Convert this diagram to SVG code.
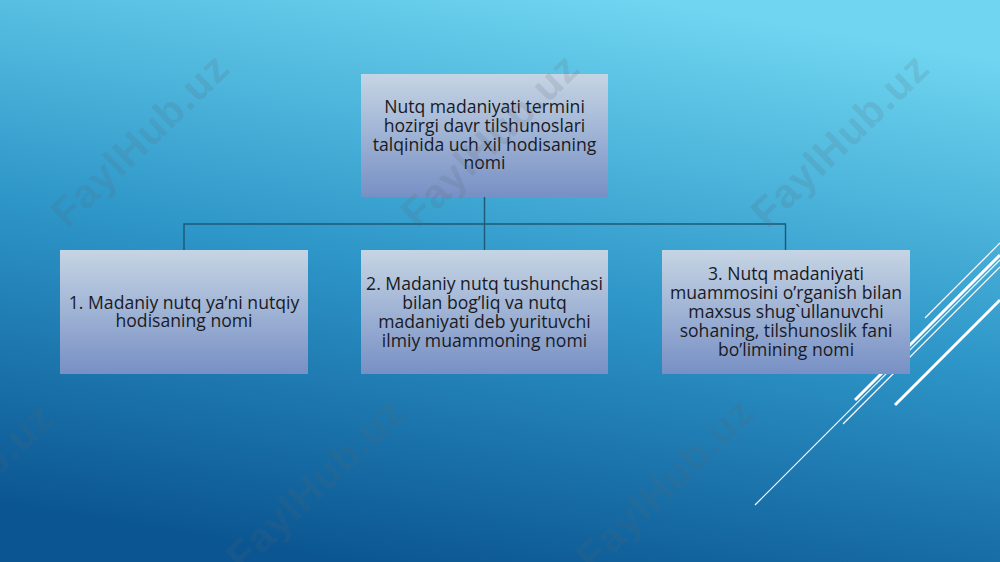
<svg xmlns="http://www.w3.org/2000/svg" width="1000" height="562" viewBox="0 0 1000 562">
<defs>
<linearGradient id="bg" x1="0.65" y1="0" x2="0.35" y2="1">
<stop offset="0" stop-color="#6fd5f0"/>
<stop offset="0.5" stop-color="#2e96c8"/>
<stop offset="1" stop-color="#0b5692"/>
</linearGradient>
<linearGradient id="box" x1="0" y1="0" x2="0" y2="1">
<stop offset="0" stop-color="#c6d5e4"/>
<stop offset="1" stop-color="#7790c5"/>
</linearGradient>
<style>
.node rect{fill:url(#box);}
.node text{font-family:"Open Sans","Noto Sans","Liberation Sans",sans-serif;font-size:17.6px;fill:#1a1a1f;text-anchor:middle;}
.conn{stroke:#1c5877;stroke-width:1.4;fill:none;}
.deco line{stroke:#ffffff;stroke-linecap:butt;}
.wm{font-family:"Liberation Sans",Arial,sans-serif;font-weight:bold;font-size:41px;fill:#5a6670;fill-opacity:0.17;text-anchor:middle;letter-spacing:1px;}
</style>
</defs>
<rect x="0" y="0" width="1000" height="562" fill="url(#bg)"/>
<g class="deco">
<line x1="1000" y1="243" x2="925" y2="318" stroke-width="1.2"/>
<line x1="1000" y1="255" x2="855" y2="400" stroke-width="3"/>
<line x1="1000" y1="260" x2="755" y2="505" stroke-width="1.2"/>
<line x1="1000" y1="267" x2="843" y2="424" stroke-width="1.2"/>
<line x1="1000" y1="300" x2="895" y2="405" stroke-width="3"/>
</g>
<g id="connectors">
<path class="conn" d="M484.5 197 V250"/>
<path class="conn" d="M184 250 V224 H785.5 V250"/>
</g>
<g id="node-top" class="node">
<rect x="361" y="74" width="247" height="123"/>
<text x="484.5" y="113">Nutq madaniyati termini</text>
<text x="484.5" y="131.8">hozirgi davr tilshunoslari</text>
<text x="484.5" y="150.6">talqinida uch xil hodisaning</text>
<text x="484.5" y="169.4">nomi</text>
</g>
<g id="node-1" class="node">
<rect x="60" y="250" width="248" height="124"/>
<text x="184" y="308.5">1. Madaniy nutq ya’ni nutqiy</text>
<text x="184" y="327.3">hodisaning nomi</text>
</g>
<g id="node-2" class="node">
<rect x="361" y="250" width="247" height="124"/>
<text x="484.5" y="289.5">2. Madaniy nutq tushunchasi</text>
<text x="484.5" y="308.5">bilan bog’liq va nutq</text>
<text x="484.5" y="327.5">madaniyati deb yurituvchi</text>
<text x="484.5" y="346.5">ilmiy muammoning nomi</text>
</g>
<g id="node-3" class="node">
<rect x="662" y="250" width="248" height="124"/>
<text x="786" y="279.5">3. Nutq madaniyati</text>
<text x="786" y="298.5">muammosini o’rganish bilan</text>
<text x="786" y="317.5">maxsus shug`ullanuvchi</text>
<text x="786" y="336.5">sohaning, tilshunoslik fani</text>
<text x="786" y="355.5">bo’limining nomi</text>
</g>
<g id="watermarks">
<text class="wm" transform="translate(140,140) rotate(-44)" y="14">FaylHub.uz</text>
<text class="wm" transform="translate(490,140) rotate(-44)" y="14">FaylHub.uz</text>
<text class="wm" transform="translate(840,140) rotate(-44)" y="14">FaylHub.uz</text>
<text class="wm" transform="translate(-36,490) rotate(-44)" y="14">FaylHub.uz</text>
<text class="wm" transform="translate(315,484) rotate(-44)" y="14">FaylHub.uz</text>
<text class="wm" transform="translate(665,484) rotate(-44)" y="14">FaylHub.uz</text>
</g>
</svg>
